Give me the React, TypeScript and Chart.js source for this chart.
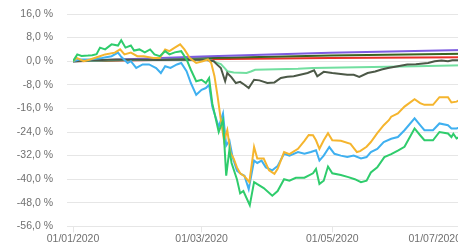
import React, { useEffect, useRef } from 'react';
import { Chart, registerables } from 'chart.js';

Chart.register(...registerables);

// x = days since 01/01/2020
const X_TICK_DAYS = [0, 60, 121, 182];
const X_TICK_LABELS = ['01/01/2020', '01/03/2020', '01/05/2020', '01/07/2020'];
const Y_MIN = -56;
const Y_MAX = 16;
const Y_STEP = 8;

const GREEN: [number, number][] = [
  [0, 0], [2, 2.3], [4, 1.8], [7, 1.9], [9, 2.0], [11, 2.4], [12.6, 4.6], [15, 4.0], [18, 5.7], [21, 5.3],
  [22.5, 7.1], [24.5, 4.6], [27, 5.3], [28.5, 3.6], [31, 4.0], [33.5, 3.0], [36, 4.0], [38, 2.3], [40.5, 1.7],
  [43, 3.4], [45, 2.3], [47.5, 3.0], [50.5, 3.4], [53, 0.6], [55, -2.9], [57.5, -6.8], [60, -6.3], [62, -7.4],
  [63.5, -5.7], [65, -14.3], [68, -24], [70, -20], [71.5, -38.8], [73, -30], [74, -34.5], [76.5, -40],
  [78, -44.8], [79.5, -44], [82.5, -48.8], [84.5, -41], [86, -41.7], [89, -43], [93, -45.6], [95.5, -44],
  [98.5, -40], [101, -40.5], [104, -39.5], [108, -39.5], [112, -38], [113.4, -36.5], [115, -41.6], [117, -40.5],
  [119, -35.7], [121, -38], [125, -38.6], [128.5, -39.3], [131.5, -40], [134.4, -41], [137, -40.5], [139, -37.7],
  [142, -36], [145.3, -32.5], [148.5, -31.5], [151.6, -30.3], [154.7, -29], [159.4, -22.8], [162, -25.1],
  [164, -26.8], [168, -26.8], [171, -24], [175, -24.5], [176.6, -25.7], [177.5, -24.6], [179, -26.2], [182, -25.1],
];

const ORANGE: [number, number][] = [
  [0, 0], [1.7, 1.1], [5, 0], [8, 0.6], [12.5, 1.7], [15, 2.3], [19.5, 2.9], [22, 4.0], [24, 2.3], [27, 2.9],
  [30, 1.7], [33, 1.7], [37.5, 1.1], [40.5, 1.1], [43, 4.0], [45, 3.4], [47.5, 4.6], [50, 5.7], [52, 4.0],
  [54.5, 1.1], [57.5, -0.6], [60.5, 0], [63, 0.6], [64.5, -0.6], [66, -5], [67.5, -12], [69, -20], [70.5, -27],
  [72, -23.4], [73.5, -31], [75, -33], [76.5, -36], [78, -38], [80, -39], [82.3, -41], [84.5, -29.1], [86, -33],
  [89, -33], [91.5, -37], [94, -38.2], [95.5, -36.5], [98.5, -30.8], [101, -31.5], [105, -29.7], [108, -27],
  [110, -25], [112, -25.1], [113.4, -26.8], [115, -29.7], [117, -26.8], [119, -24.4], [121, -26.8], [125, -27],
  [129.5, -28], [132.5, -30.8], [134, -30.5], [137, -29], [139, -27.4], [142, -24.4], [145, -21.7], [147.4, -20],
  [148.5, -18.8], [151.6, -17.7], [154.7, -15.4], [159.4, -12.9], [162, -14.2], [164, -14.8], [168, -14.8],
  [171, -12.2], [175, -12.2], [176.6, -14], [179, -13.7], [182, -12.5],
];

const BLUE: [number, number][] = [
  [0, 0], [3, 0.6], [8, 0.6], [13.5, 1.1], [18, 1.7], [21, 2.9], [22.5, 1.5], [25.5, -0.6], [27, 0], [29.5, -2.3],
  [32.5, -1.1], [35.5, -1.1], [38.8, -2.3], [41, -4], [43, -1.7], [45.5, -2.3], [48.5, -1.1], [50.5, -0.6],
  [53, -3.4], [55, -7.4], [57.5, -11.4], [60, -9.7], [62, -9.1], [63.5, -8], [65, -15.4], [68, -22.3], [70, -17.7],
  [71.5, -28.6], [73, -26.9], [74.5, -32.6], [76.5, -37.1], [78.5, -38.3], [80, -38.8], [82, -43.4], [84.5, -33.7],
  [86, -34.5], [88, -33.7], [90, -36], [91.5, -36.5], [93, -37], [95.5, -35.5], [98.5, -31.4], [101, -32],
  [105, -30.8], [108, -31.4], [111, -30.8], [113.4, -30.2], [115, -33.7], [117, -32], [119.6, -29.1], [122, -31.4],
  [125, -32], [128, -32.5], [131, -32], [134.4, -33], [137, -32.5], [139, -30.8], [142, -29.7], [145, -27.4],
  [148.5, -26.3], [151.6, -25.7], [154.7, -23.4], [159.4, -19.4], [162, -21.7], [164, -23.4], [168, -23.4],
  [171, -21.1], [175, -21.7], [176.6, -22.8], [179, -22.8], [182, -22],
];

const DARK: [number, number][] = [
  [0, 0], [10, 0.3], [20, 0.6], [30, 0.5], [40, 0.4], [50, 0.5], [60, 0.6], [63, 0.3], [65.7, 0], [67, -1],
  [69, -2.3], [71, -6.8], [72, -4], [74, -5.5], [76, -7.4], [78, -7], [80, -8], [82, -9.1], [84.5, -6.3],
  [87, -6.5], [90.7, -7.4], [94, -7.2], [97, -5.7], [100, -5.3], [103, -5.1], [106, -4.6], [109.5, -4],
  [112.5, -3.1], [114, -5.1], [117, -3.6], [121, -4], [125, -4.3], [128, -4.6], [131, -4.6], [133.6, -5.3],
  [137.5, -4], [141, -3.5], [144, -2.8], [147, -2.3], [151.6, -1.7], [156, -1.1], [160, -1.0], [165.7, -0.6],
  [168.8, 0], [172, 0.2], [175, 0], [177, 0.3], [179.7, 0.3], [182, 0.6],
];

const MINT: [number, number][] = [
  [0, 0], [15, 0.3], [30, 0.4], [45, 0.5], [60, 0.6], [63, 0.5], [65, 0.2], [67, -0.5], [69, -1], [71, -2.5],
  [72, -3.4], [75, -3.8], [81, -4], [83, -3.5], [85, -2.9], [105, -2.6], [112, -2.3], [140, -2.0], [160, -1.7],
  [182, -1.4],
];

const PURPLE: [number, number][] = [[0, 0], [60, 1.6], [120, 2.9], [182, 3.8]];
const OLIVE: [number, number][] = [[0, 0], [60, 1.0], [120, 1.9], [182, 2.5]];
const RED: [number, number][] = [[0, 0], [60, 0.7], [120, 1.1], [182, 1.3]];

const SERIES_NAMES = ['A', 'B', 'C', 'D', 'E', 'F', 'G', 'H'];

const FONT = { family: "'Liberation Sans', Arial, sans-serif", size: 10.5 };
const TICK_COLOR = '#707070';
const GRID_COLOR = '#e6e6e6';

const toPts = (arr: [number, number][]) => arr.map(([x, y]) => ({ x, y }));

const lastLabelPlugin = {
  id: 'lastLabel',
  afterDraw(chart: any) {
    const scale = chart.scales.x;
    if (!scale) return;
    const items = scale.getLabelItems ? scale.getLabelItems() : [];
    const lastIdx = X_TICK_DAYS.length - 1;
    const px = scale.getPixelForValue(X_TICK_DAYS[lastIdx]);
    const ctx = chart.ctx;
    ctx.save();
    ctx.font = `${FONT.size}px ${FONT.family}`;
    ctx.fillStyle = TICK_COLOR;
    ctx.textAlign = 'right';
    let y = scale.top + 6 + FONT.size * 0.6;
    let baseline: CanvasTextBaseline = 'middle';
    if (items && items.length) {
      const it = items[items.length - 1];
      y = it.options.translation[1] + (it.textOffset || 0);
      baseline = it.options.textBaseline || 'top';
    }
    ctx.textBaseline = baseline;
    ctx.fillText(X_TICK_LABELS[lastIdx], px - 2, y);
    ctx.restore();
  },
};

export default function App() {
  const ref = useRef<HTMLCanvasElement>(null);
  useEffect(() => {
    if (!ref.current) return;
    const colors = ['#2fcc6c', '#f5b52e', '#3fb0f0', '#4c5847', '#72dfa0', '#7d5ce0', '#3a6420', '#e8312a'];
    const data = [GREEN, ORANGE, BLUE, DARK, MINT, PURPLE, OLIVE, RED];
    const chart = new Chart(ref.current, {
      type: 'line',
      data: {
        datasets: data.map((d, i) => ({
          label: SERIES_NAMES[i],
          data: toPts(d),
          borderColor: colors[i],
          backgroundColor: colors[i],
          borderWidth: 2,
          pointRadius: 0,
          tension: 0,
          fill: false,
        })),
      },
      options: {
        animation: false,
        responsive: true,
        maintainAspectRatio: false,
        layout: { padding: { left: 7, right: 3, top: 0, bottom: 2 } },
        plugins: { legend: { display: false }, tooltip: { enabled: false } },
        scales: {
          x: {
            type: 'linear',
            min: X_TICK_DAYS[0],
            max: X_TICK_DAYS[X_TICK_DAYS.length - 1],
            afterBuildTicks: (scale: any) => {
              scale.ticks = X_TICK_DAYS.map((v) => ({ value: v }));
            },
            afterFit: (scale: any) => {
              scale.paddingRight = 0;
              scale.paddingLeft = 0;
            },
            ticks: {
              autoSkip: false,
              maxRotation: 0,
              padding: 0,
              font: FONT,
              color: (ctx: any) => (ctx.index === X_TICK_DAYS.length - 1 ? 'rgba(0,0,0,0)' : TICK_COLOR),
              callback: (value: any) => {
                const i = X_TICK_DAYS.indexOf(Number(value));
                return i >= 0 ? X_TICK_LABELS[i] : '';
              },
            },
            grid: { drawOnChartArea: false, drawTicks: true, tickLength: 6, color: GRID_COLOR },
            border: { display: false },
          },
          y: {
            min: Y_MIN,
            max: Y_MAX,
            afterFit: (scale: any) => {
              scale.width = 58;
              scale.paddingTop = 6;
              scale.paddingBottom = 0;
            },
            ticks: {
              stepSize: Y_STEP,
              padding: 14,
              font: FONT,
              color: TICK_COLOR,
              callback: (v: any) => Number(v).toFixed(1).replace('.', ',') + ' %',
            },
            grid: { color: GRID_COLOR, tickLength: 6 },
            border: { display: false },
          },
        },
      },
      plugins: [lastLabelPlugin],
    });
    return () => chart.destroy();
  }, []);
  return (
    <div style={{ width: 458, height: 239, position: 'relative' }}>
      <canvas ref={ref} />
    </div>
  );
}
